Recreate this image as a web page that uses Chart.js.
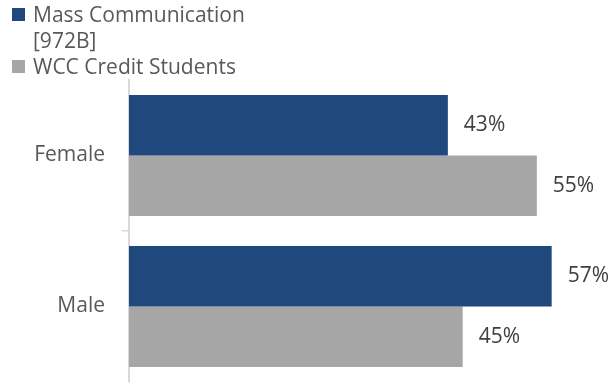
<!DOCTYPE html>
<html>
<head>
<meta charset="utf-8">
<script src="https://cdn.jsdelivr.net/npm/chart.js@4/dist/chart.umd.min.js"></script>
<style>
  html, body { margin: 0; padding: 0; background: #fff; overflow: hidden; }
  #wrap { position: relative; width: 613px; height: 387px; }
  #legend {
    position: absolute; left: 12px; top: 1px; width: 250px;
    font-family: "Open Sans", sans-serif; font-size: 21px; line-height: 26px; color: #595959;
  }
  .item { display: flex; align-items: flex-start; }
  .box { width: 13px; height: 13px; margin-top: 7px; margin-right: 8px; flex: none; }
</style>
</head>
<body>
<div id="wrap">
  <canvas id="grafico" width="613" height="387"></canvas>
  <div id="legend"></div>
</div>
<script>
// Categorias (eixo Y)
const categorias = ['Female', 'Male'];

// Séries (percentual)
const nomesSeries = ['Mass Communication [972B]', 'WCC Credit Students'];
const massComm = [43, 57];
const wccCredit = [55, 45];
const cores = ['#1f487c', '#a6a6a6'];

const valores = [massComm, wccCredit];

// Rótulos de valor à direita de cada barra
const rotulosValor = {
  id: 'rotulosValor',
  afterDatasetsDraw(chart) {
    const ctx = chart.ctx;
    ctx.save();
    ctx.font = '21px "Open Sans", sans-serif';
    ctx.fillStyle = '#404040';
    ctx.textAlign = 'left';
    ctx.textBaseline = 'middle';
    chart.data.datasets.forEach((ds, i) => {
      chart.getDatasetMeta(i).data.forEach((bar, j) => {
        ctx.fillText(ds.data[j] + '%', bar.x + 16, bar.y);
      });
    });
    ctx.restore();
  }
};

const data = {
  labels: categorias,
  datasets: nomesSeries.map((nome, i) => ({
    label: nome,
    data: valores[i],
    backgroundColor: cores[i],
    borderWidth: 0,
    categoryPercentage: 0.8,
    barPercentage: 1.0
  }))
};

const config = {
  type: 'bar',
  data: data,
  options: {
    indexAxis: 'y',
    responsive: false,
    animation: false,
    layout: { padding: { top: 80, bottom: 5, right: 2, left: 0 } },
    plugins: {
      legend: { display: false },
      tooltip: { enabled: false }
    },
    scales: {
      x: { display: false, min: 0, max: 65 },
      y: {
        afterFit(scale) {
          // largura fixa do eixo e sem folga extra em cima/embaixo
          scale.width = 129;
          scale.paddingTop = 0;
          scale.paddingBottom = 0;
        },
        grid: {
          drawOnChartArea: false,
          drawTicks: true,
          tickLength: 7,
          // só o traço entre as duas categorias
          color: (c) => c.index === 1 ? '#d9d9d9' : 'rgba(0,0,0,0)',
          lineWidth: 1.5
        },
        border: { display: true, color: '#d9d9d9', width: 2 },
        ticks: { color: '#595959', padding: 17, font: { family: 'Open Sans', size: 21 } }
      }
    }
  },
  plugins: [rotulosValor]
};

const grafico = new Chart(document.getElementById('grafico'), config);

// Legenda em HTML (o texto quebra em duas linhas)
const legenda = document.getElementById('legend');
nomesSeries.forEach((nome, i) => {
  const item = document.createElement('div');
  item.className = 'item';
  item.innerHTML = '<span class="box" style="background:' + cores[i] + '"></span><span></span>';
  item.lastChild.textContent = nome;
  legenda.appendChild(item);
});
</script>
</body>
</html>
